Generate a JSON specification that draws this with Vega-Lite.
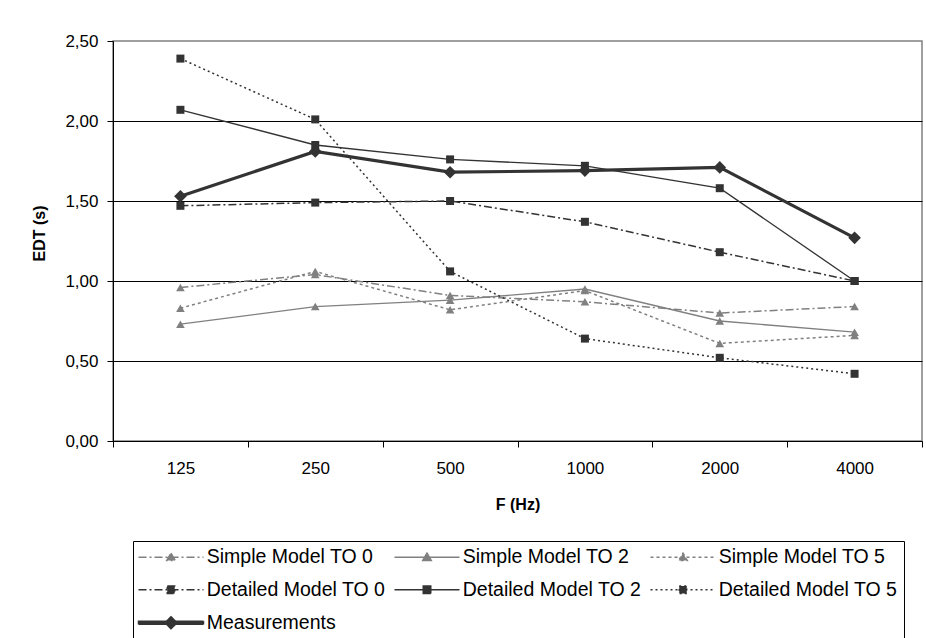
{
  "$schema": "https://vega.github.io/schema/vega-lite/v6.json",
  "width": 809,
  "height": 400,
  "autosize": {"type": "none"},
  "padding": {"left": 113, "top": 41, "right": 4, "bottom": 197},
  "background": "white",
  "config": {
    "font": "Liberation Sans",
    "view": {"stroke": "#808080", "strokeWidth": 1.5},
    "axis": {
      "labelFont": "Liberation Sans",
      "titleFont": "Liberation Sans",
      "labelColor": "black",
      "titleColor": "black",
      "domainColor": "black",
      "tickColor": "black",
      "labelFontSize": 17,
      "titleFontSize": 16,
      "titleFontWeight": "bold"
    }
  },
  "data": {
    "values": [
      {"Series": "Simple Model TO 0", "F": "125", "EDT": 0.96},
      {"Series": "Simple Model TO 0", "F": "250", "EDT": 1.04},
      {"Series": "Simple Model TO 0", "F": "500", "EDT": 0.91},
      {"Series": "Simple Model TO 0", "F": "1000", "EDT": 0.87},
      {"Series": "Simple Model TO 0", "F": "2000", "EDT": 0.80},
      {"Series": "Simple Model TO 0", "F": "4000", "EDT": 0.84},
      {"Series": "Simple Model TO 2", "F": "125", "EDT": 0.73},
      {"Series": "Simple Model TO 2", "F": "250", "EDT": 0.84},
      {"Series": "Simple Model TO 2", "F": "500", "EDT": 0.88},
      {"Series": "Simple Model TO 2", "F": "1000", "EDT": 0.95},
      {"Series": "Simple Model TO 2", "F": "2000", "EDT": 0.75},
      {"Series": "Simple Model TO 2", "F": "4000", "EDT": 0.68},
      {"Series": "Simple Model TO 5", "F": "125", "EDT": 0.83},
      {"Series": "Simple Model TO 5", "F": "250", "EDT": 1.06},
      {"Series": "Simple Model TO 5", "F": "500", "EDT": 0.82},
      {"Series": "Simple Model TO 5", "F": "1000", "EDT": 0.94},
      {"Series": "Simple Model TO 5", "F": "2000", "EDT": 0.61},
      {"Series": "Simple Model TO 5", "F": "4000", "EDT": 0.66},
      {"Series": "Detailed Model TO 0", "F": "125", "EDT": 1.47},
      {"Series": "Detailed Model TO 0", "F": "250", "EDT": 1.49},
      {"Series": "Detailed Model TO 0", "F": "500", "EDT": 1.50},
      {"Series": "Detailed Model TO 0", "F": "1000", "EDT": 1.37},
      {"Series": "Detailed Model TO 0", "F": "2000", "EDT": 1.18},
      {"Series": "Detailed Model TO 0", "F": "4000", "EDT": 1.00},
      {"Series": "Detailed Model TO 2", "F": "125", "EDT": 2.07},
      {"Series": "Detailed Model TO 2", "F": "250", "EDT": 1.85},
      {"Series": "Detailed Model TO 2", "F": "500", "EDT": 1.76},
      {"Series": "Detailed Model TO 2", "F": "1000", "EDT": 1.72},
      {"Series": "Detailed Model TO 2", "F": "2000", "EDT": 1.58},
      {"Series": "Detailed Model TO 2", "F": "4000", "EDT": 1.00},
      {"Series": "Detailed Model TO 5", "F": "125", "EDT": 2.39},
      {"Series": "Detailed Model TO 5", "F": "250", "EDT": 2.01},
      {"Series": "Detailed Model TO 5", "F": "500", "EDT": 1.06},
      {"Series": "Detailed Model TO 5", "F": "1000", "EDT": 0.64},
      {"Series": "Detailed Model TO 5", "F": "2000", "EDT": 0.52},
      {"Series": "Detailed Model TO 5", "F": "4000", "EDT": 0.42},
      {"Series": "Measurements", "F": "125", "EDT": 1.53},
      {"Series": "Measurements", "F": "250", "EDT": 1.81},
      {"Series": "Measurements", "F": "500", "EDT": 1.68},
      {"Series": "Measurements", "F": "1000", "EDT": 1.69},
      {"Series": "Measurements", "F": "2000", "EDT": 1.71},
      {"Series": "Measurements", "F": "4000", "EDT": 1.27}
    ]
  },
  "encoding": {
    "x": {
      "field": "F",
      "type": "ordinal",
      "scale": {"type": "band", "domain": ["125", "250", "500", "1000", "2000", "4000"], "paddingInner": 0, "paddingOuter": 0},
      "axis": {
        "title": "F (Hz)",
        "labelAngle": 0,
        "tickBand": "extent",
        "tickSize": 6,
        "labelPadding": 13,
        "grid": false,
        "titleY": 55,
        "titleBaseline": "top"
      }
    },
    "y": {
      "field": "EDT",
      "type": "quantitative",
      "scale": {"domain": [0, 2.5], "nice": false},
      "axis": {
        "title": "EDT (s)",
        "values": [0, 0.5, 1, 1.5, 2, 2.5],
        "labelExpr": "replace(format(datum.value, '.2f'), '.', ',')",
        "tickSize": 6,
        "labelPadding": 9,
        "grid": true,
        "gridColor": {"condition": {"test": "datum.value >= 2.5", "value": "transparent"}, "value": "black"},
        "gridOpacity": 1,
        "titleX": -74,
        "titleY": 192,
        "titleBaseline": "middle"
      }
    },
    "color": {
      "field": "Series",
      "type": "nominal",
      "scale": {
        "domain": ["Simple Model TO 0", "Simple Model TO 2", "Simple Model TO 5", "Detailed Model TO 0", "Detailed Model TO 2", "Detailed Model TO 5", "Measurements"],
        "range": ["#808080", "#808080", "#808080", "#333333", "#333333", "#333333", "#333333"]
      },
      "legend": {
        "title": null,
        "orient": "none",
        "legendX": 20,
        "legendY": 500,
        "columns": 3,
        "direction": "horizontal",
        "strokeColor": "black",
        "fillColor": "white",
        "padding": 6,
        "labelFont": "Liberation Sans",
        "labelFontSize": 19.5,
        "labelColor": "black",
        "labelLimit": 400,
        "symbolSize": 100,
        "symbolOffset": 22.25,
        "labelOffset": 26,
        "symbolStrokeWidth": 1.5,
        "symbolOpacity": 1,
        "columnPadding": 5,
        "rowPadding": 12,
        "encode": {
          "symbols": {
            "update": {
              "shape": {"signal": "datum.value == 'Measurements' ? 'M-6.5,0H6.5M-6.5,-0.3H6.5V0.3H-6.5ZM-1.2,0L0,-1.2L1.2,0L0,1.2Z' : indexof(datum.value, 'Simple') == 0 ? 'M-6.5,0H6.5M0,-0.8L0.85,0.65H-0.85Z' : 'M-6.5,0H6.5M-0.75,-0.75H0.75V0.75H-0.75Z'"},
              "strokeDash": {"signal": "datum.value == 'Simple Model TO 0' ? [8,3,2,3] : datum.value == 'Simple Model TO 5' ? [3,3] : datum.value == 'Detailed Model TO 0' ? [8,3,2,3] : datum.value == 'Detailed Model TO 5' ? [2,3] : [1,0]"},
              "size": {"value": 100}
            }
          }
        }
      }
    }
  },
  "layer": [
    {
      "transform": [{"filter": {"field": "Series", "oneOf": ["Simple Model TO 2", "Detailed Model TO 2"]}}],
      "mark": {"type": "line", "strokeWidth": 1.3}
    },
    {
      "transform": [{"filter": {"field": "Series", "oneOf": ["Simple Model TO 0", "Detailed Model TO 0"]}}],
      "mark": {"type": "line", "strokeWidth": 1.5, "strokeDash": [8, 3, 2, 3]}
    },
    {
      "transform": [{"filter": {"field": "Series", "equal": "Simple Model TO 5"}}],
      "mark": {"type": "line", "strokeWidth": 1.5, "strokeDash": [3, 3]}
    },
    {
      "transform": [{"filter": {"field": "Series", "equal": "Detailed Model TO 5"}}],
      "mark": {"type": "line", "strokeWidth": 1.5, "strokeDash": [2, 3]}
    },
    {
      "transform": [{"filter": {"field": "Series", "equal": "Measurements"}}],
      "mark": {"type": "line", "strokeWidth": 3.2}
    },
    {
      "transform": [{"filter": {"field": "Series", "oneOf": ["Simple Model TO 0", "Simple Model TO 2", "Simple Model TO 5"]}}],
      "mark": {"type": "point", "filled": true, "opacity": 1, "shape": "triangle-up", "size": 75}
    },
    {
      "transform": [{"filter": {"field": "Series", "oneOf": ["Detailed Model TO 0", "Detailed Model TO 2", "Detailed Model TO 5"]}}],
      "mark": {"type": "point", "filled": true, "opacity": 1, "shape": "square", "size": 64}
    },
    {
      "transform": [{"filter": {"field": "Series", "equal": "Measurements"}}],
      "mark": {"type": "point", "filled": true, "opacity": 1, "shape": "diamond", "size": 160}
    }
  ]
}
